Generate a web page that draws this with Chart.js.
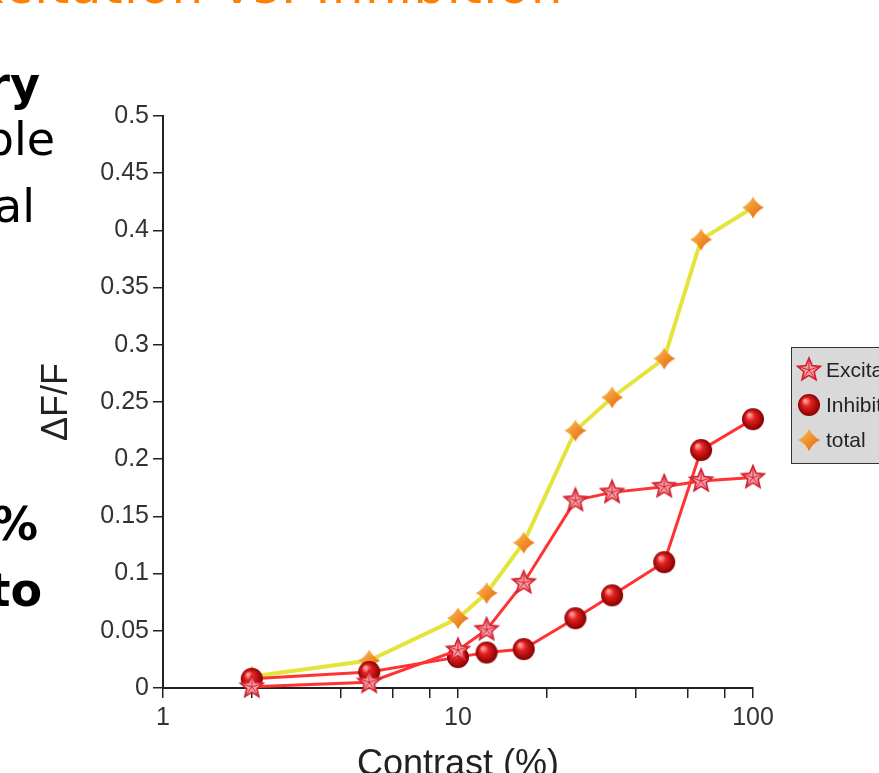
<!DOCTYPE html>
<html>
<head>
<meta charset="utf-8">
<script src="https://cdn.jsdelivr.net/npm/chart.js@4/dist/chart.umd.min.js"></script>
<style>
  html, body { margin: 0; padding: 0; background: #fff; overflow: hidden; }
  body { position: relative; width: 879px; height: 773px; }
  #wrap { position: absolute; left: 0; top: 0; width: 879px; height: 800px; }
  .frag { position: absolute; white-space: nowrap; font-family: "DejaVu Sans", sans-serif; font-size: 46px; line-height: 46px; color: #000; }
  .b { font-weight: bold; }
  #title { position: absolute; white-space: nowrap; font-family: "DejaVu Sans", sans-serif; font-size: 50px; line-height: 50px; letter-spacing: 1.5px; color: #ff8000; }
</style>
</head>
<body>
<div id="wrap"><canvas id="grafico"></canvas></div>
<div id="title" style="right:315px; top:-39px;">Excitation vs. Inhibition</div>
<div class="frag b" style="right:839px; top:61px;">ry</div>
<div class="frag" style="right:824px; top:116px;">ble</div>
<div class="frag" style="right:844px; top:183px;">al</div>
<div class="frag b" style="right:841px; top:501px;">%</div>
<div class="frag b" style="right:837px; top:567px;">to</div>
<script>
// contrast (%) on a log axis
const contrast = [2, 5, 10, 12.5, 16.7, 25, 33.3, 50, 66.7, 100];
const excitation = [0.001, 0.005, 0.033, 0.051, 0.092, 0.164, 0.171, 0.176, 0.181, 0.184];
const inhibition = [0.008, 0.014, 0.027, 0.031, 0.034, 0.061, 0.081, 0.110, 0.208, 0.235];
const total = [0.010, 0.024, 0.061, 0.083, 0.127, 0.225, 0.254, 0.288, 0.392, 0.420];
const seriesNames = ['Excitation', 'Inhibition', 'total'];
const xTicks = [1, 2, 4, 6, 8, 10, 20, 40, 60, 80, 100];
const xLabels = [1, 10, 100];
const yTicks = [0, 0.05, 0.1, 0.15, 0.2, 0.25, 0.3, 0.35, 0.4, 0.45, 0.5];

// marker images
function makeStar(r) {
  const c = document.createElement('canvas');
  const s = Math.ceil(r * 2 + 4);
  c.width = c.height = s;
  const g = c.getContext('2d');
  g.translate(s / 2, s / 2);
  g.beginPath();
  for (let i = 0; i < 10; i++) {
    const rad = i % 2 ? r * 0.45 : r;
    const a = -Math.PI / 2 + i * Math.PI / 5;
    g.lineTo(rad * Math.cos(a), rad * Math.sin(a));
  }
  g.closePath();
  g.fillStyle = '#f5a0a6';
  g.fill();
  g.lineWidth = 1.6;
  g.strokeStyle = '#d11f2e';
  g.stroke();
  g.lineWidth = 1;
  for (let i = 0; i < 5; i++) {
    const a = -Math.PI / 2 + i * 2 * Math.PI / 5;
    g.beginPath();
    g.moveTo(0, 0);
    g.lineTo(r * 0.9 * Math.cos(a), r * 0.9 * Math.sin(a));
    g.stroke();
  }
  return c;
}

function makeBall(r) {
  const c = document.createElement('canvas');
  const s = Math.ceil(r * 2 + 2);
  c.width = c.height = s;
  const g = c.getContext('2d');
  const grd = g.createRadialGradient(s / 2 - r * 0.35, s / 2 - r * 0.4, r * 0.1, s / 2, s / 2, r);
  grd.addColorStop(0, '#ff9c9c');
  grd.addColorStop(0.35, '#e42020');
  grd.addColorStop(1, '#860000');
  g.fillStyle = grd;
  g.beginPath();
  g.arc(s / 2, s / 2, r, 0, Math.PI * 2);
  g.fill();
  return c;
}

function makeDiamond(r) {
  const c = document.createElement('canvas');
  const s = Math.ceil(r * 2 + 2);
  c.width = c.height = s;
  const g = c.getContext('2d');
  g.translate(s / 2, s / 2);
  const grd = g.createLinearGradient(-r, -r, r, r);
  grd.addColorStop(0, '#ffc25a');
  grd.addColorStop(1, '#e35f00');
  g.fillStyle = grd;
  const k = r * 0.32;
  g.beginPath();
  g.moveTo(0, -r);
  g.quadraticCurveTo(k, -k, r, 0);
  g.quadraticCurveTo(k, k, 0, r);
  g.quadraticCurveTo(-k, k, -r, 0);
  g.quadraticCurveTo(-k, -k, 0, -r);
  g.fill();
  return c;
}

const starImg = makeStar(12);
const ballImg = makeBall(11);
const diamondImg = makeDiamond(11);
const markers = [starImg, ballImg, diamondImg];

function pts(ys) {
  return contrast.map((x, i) => ({ x: x, y: ys[i] }));
}

// legend box drawn at the right edge (partly off-page as in the slide)
const boxLegend = {
  id: 'boxLegend',
  afterDraw(chart) {
    const ctx = chart.ctx;
    ctx.save();
    ctx.fillStyle = '#d9d9d9';
    ctx.fillRect(791, 347, 140, 116);
    ctx.strokeStyle = '#333';
    ctx.lineWidth = 1;
    ctx.strokeRect(791.5, 347.5, 140, 116);
    ctx.font = '21px "Liberation Sans", Arial, sans-serif';
    ctx.fillStyle = '#222';
    ctx.textBaseline = 'middle';
    chart.data.datasets.forEach((ds, i) => {
      const y = 370 + i * 35;
      const img = markers[i];
      ctx.drawImage(img, 809 - img.width / 2, y - img.height / 2);
      ctx.fillText(ds.label, 826, y + 1);
    });
    ctx.restore();
  }
};

const ctx = document.getElementById('grafico').getContext('2d');

const grafico = new Chart(ctx, {
  type: 'line',
  data: {
    datasets: [
      {
        label: seriesNames[0],
        data: pts(excitation),
        borderColor: '#ff3333',
        borderWidth: 3,
        pointStyle: starImg,
        tension: 0,
        clip: false
      },
      {
        label: seriesNames[1],
        data: pts(inhibition),
        borderColor: '#ff3333',
        borderWidth: 3,
        pointStyle: ballImg,
        tension: 0,
        clip: false
      },
      {
        label: seriesNames[2],
        data: pts(total),
        borderColor: '#e4e43c',
        borderWidth: 4,
        pointStyle: diamondImg,
        tension: 0,
        clip: false
      }
    ]
  },
  options: {
    responsive: true,
    maintainAspectRatio: false,
    animation: false,
    layout: { padding: { top: 116, right: 126, left: 0, bottom: 0 } },
    plugins: {
      legend: { display: false },
      tooltip: { enabled: false }
    },
    scales: {
      x: {
        type: 'logarithmic',
        min: 1,
        max: 100,
        afterBuildTicks: (s) => { s.ticks = xTicks.map(v => ({ value: v })); },
        afterFit: (s) => { s.height = 112; },
        ticks: {
          autoSkip: false,
          maxRotation: 0,
          padding: 5,
          color: '#333',
          font: { family: '"Liberation Sans", Arial, sans-serif', size: 25 },
          callback: (v) => xLabels.includes(v) ? String(v) : ''
        },
        grid: { drawOnChartArea: false, tickLength: 10, color: '#222', lineWidth: 1.5 },
        border: { color: '#222', width: 2 },
        title: {
          display: true,
          text: 'Contrast (%)',
          color: '#222',
          font: { family: '"Liberation Sans", Arial, sans-serif', size: 36 },
          padding: { top: 0, bottom: 13 }
        }
      },
      y: {
        type: 'linear',
        min: 0,
        max: 0.5,
        afterBuildTicks: (s) => { s.ticks = yTicks.map(v => ({ value: v })); },
        afterFit: (s) => { s.width = 163; },
        ticks: {
          padding: 4,
          color: '#333',
          font: { family: '"Liberation Sans", Arial, sans-serif', size: 25 },
          callback: (v) => String(+v.toFixed(2))
        },
        grid: { drawOnChartArea: false, tickLength: 10, color: '#222', lineWidth: 1.5 },
        border: { color: '#222', width: 2 },
        title: {
          display: true,
          text: 'ΔF/F',
          color: '#222',
          font: { family: '"Liberation Sans", Arial, sans-serif', size: 36 },
          padding: { top: 35, bottom: 0 }
        }
      }
    }
  },
  plugins: [boxLegend]
});
</script>
</body>
</html>
